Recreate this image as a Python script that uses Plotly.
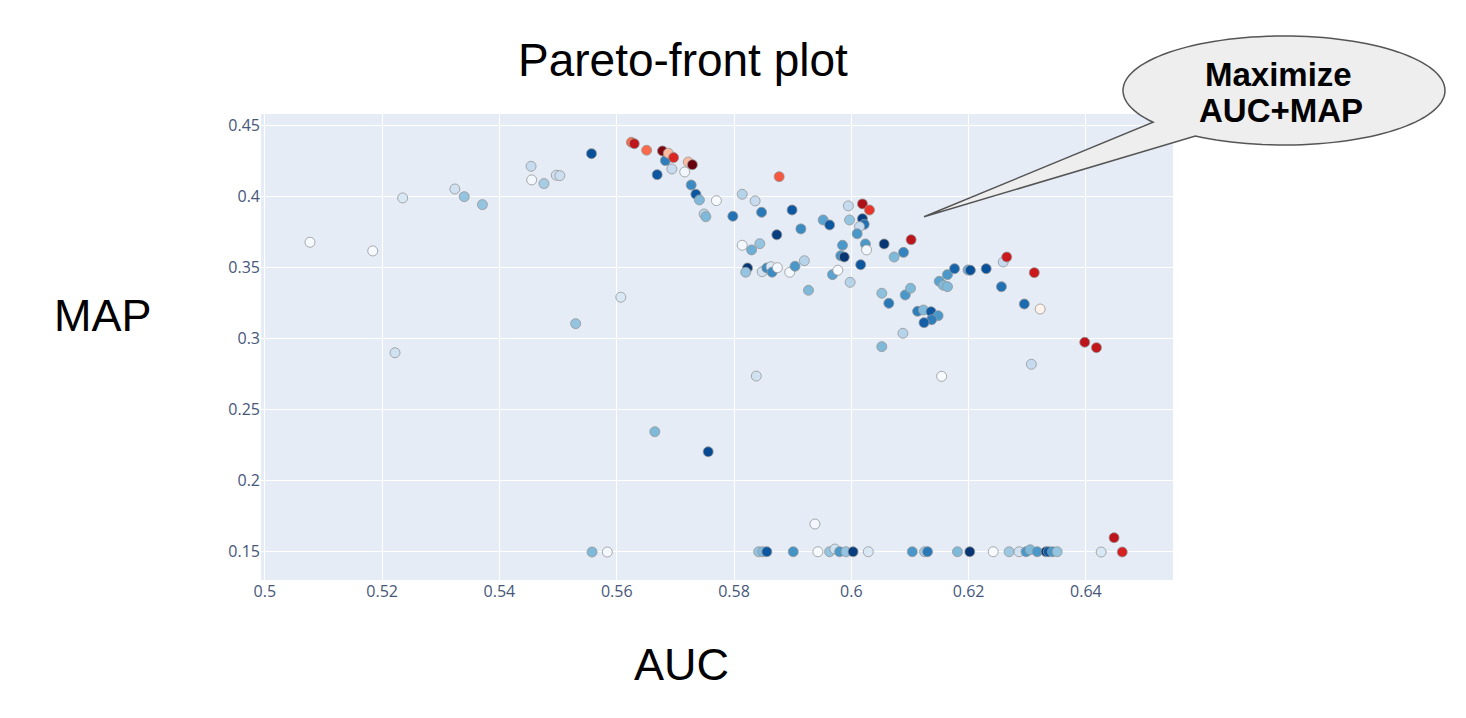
import numpy as np
import plotly.graph_objects as go

# trials that are not on the pareto front (AUC, MAP, colour shade 0..1 = trial order)
auc = [0.5077, 0.5184, 0.5235, 0.5222, 0.5324, 0.5340, 0.5371, 0.5454, 0.5455, 0.5476,
       0.5497, 0.5503, 0.5557, 0.5530, 0.5607, 0.5683, 0.5694, 0.5669, 0.5716, 0.5727,
       0.5735, 0.5741, 0.5749, 0.5752, 0.5770, 0.5798, 0.5814, 0.5836, 0.5847, 0.5899,
       0.5873, 0.5914, 0.5952, 0.5963, 0.5995, 0.5997, 0.6019, 0.6022, 0.6014, 0.6010,
       0.6024, 0.6026, 0.6056, 0.6089, 0.6073, 0.5814, 0.5830, 0.5844, 0.5823, 0.5820,
       0.5848, 0.5856, 0.5863, 0.5865, 0.5874, 0.5895, 0.5904, 0.5920, 0.5927, 0.5968,
       0.5977, 0.5985, 0.5982, 0.5988, 0.6016, 0.5998, 0.6052, 0.6064, 0.6092, 0.6101,
       0.6052, 0.6088, 0.6113, 0.6123, 0.6136, 0.6148, 0.6137, 0.6124, 0.6150, 0.6157,
       0.6164, 0.6164, 0.6176, 0.6199, 0.6203, 0.6230, 0.6256, 0.6259, 0.6295, 0.5838,
       0.6154, 0.6307, 0.5756, 0.5938, 0.6426, 0.5665, 0.5558, 0.5584,
       0.5842, 0.5849, 0.5856, 0.5901, 0.5943, 0.5963, 0.5972, 0.5980, 0.5991, 0.6003,
       0.6029, 0.6104, 0.6125, 0.6130, 0.6181, 0.6202, 0.6242, 0.6269, 0.6286, 0.6298,
       0.6305, 0.6317, 0.6332, 0.6336, 0.6343, 0.6351]
map_ = [0.3679, 0.3618, 0.3991, 0.2901, 0.4054, 0.4000, 0.3944, 0.4214, 0.4118, 0.4092,
        0.4151, 0.4148, 0.4303, 0.3106, 0.3292, 0.4254, 0.4195, 0.4155, 0.4174, 0.4082,
        0.4017, 0.3977, 0.3878, 0.3859, 0.3972, 0.3862, 0.4017, 0.3970, 0.3890, 0.3906,
        0.3732, 0.3773, 0.3836, 0.3801, 0.3935, 0.3836, 0.3845, 0.3805, 0.3789, 0.3739,
        0.3667, 0.3625, 0.3667, 0.3608, 0.3575, 0.3658, 0.3625, 0.3669, 0.3498, 0.3468,
        0.3472, 0.3498, 0.3507, 0.3468, 0.3500, 0.3468, 0.3510, 0.3549, 0.3341, 0.3451,
        0.3482, 0.3658, 0.3584, 0.3575, 0.3521, 0.3397, 0.3320, 0.3249, 0.3308, 0.3355,
        0.2944, 0.3038, 0.3193, 0.3202, 0.3190, 0.3162, 0.3134, 0.3113, 0.3404, 0.3376,
        0.3366, 0.3451, 0.3493, 0.3484, 0.3482, 0.3493, 0.3366, 0.3540, 0.3244, 0.2737,
        0.2735, 0.2820, 0.2204, 0.1695, 0.1498, 0.2345, 0.1498, 0.1498,
        0.15, 0.15, 0.15, 0.15, 0.15, 0.15, 0.1519, 0.15, 0.15, 0.15,
        0.15, 0.15, 0.15, 0.15, 0.15, 0.15, 0.15, 0.15, 0.15, 0.15,
        0.1514, 0.15, 0.15, 0.15, 0.15, 0.15]
shade = [0.0, 0.0, 0.15, 0.2, 0.2, 0.4, 0.4, 0.25, 0.02, 0.35,
         0.2, 0.22, 0.88, 0.4, 0.15, 0.7, 0.25, 0.85, 0.02, 0.65,
         0.85, 0.45, 0.3, 0.45, 0.0, 0.75, 0.3, 0.25, 0.72, 0.85,
         0.95, 0.65, 0.55, 0.85, 0.25, 0.4, 0.95, 0.75, 0.25, 0.6,
         0.6, 0.02, 0.98, 0.68, 0.45, 0.02, 0.5, 0.4, 0.98, 0.4,
         0.2, 0.65, 0.15, 0.65, 0.02, 0.02, 0.6, 0.3, 0.45, 0.55,
         0.0, 0.6, 0.62, 0.98, 0.85, 0.3, 0.42, 0.72, 0.6, 0.45,
         0.45, 0.3, 0.7, 0.45, 0.85, 0.6, 0.7, 0.82, 0.55, 0.45,
         0.45, 0.6, 0.8, 0.5, 0.88, 0.88, 0.75, 0.25, 0.78, 0.2,
         0.0, 0.25, 0.9, 0.02, 0.15, 0.45, 0.45, 0.02,
         0.4, 0.45, 0.85, 0.62, 0.0, 0.4, 0.2, 0.6, 0.4, 0.95,
         0.15, 0.6, 0.35, 0.72, 0.45, 0.98, 0.0, 0.38, 0.2, 0.6,
         0.45, 0.6, 0.98, 0.85, 0.6, 0.4]

# pareto-front trials
best_auc = [0.5625, 0.5630, 0.5651, 0.5678, 0.5688, 0.5697, 0.5722, 0.5729, 0.5877, 0.6019,
            0.6031, 0.6102, 0.6265, 0.6312, 0.6322, 0.6398, 0.6418, 0.6448, 0.6462]
best_map = [0.4383, 0.4373, 0.4327, 0.4322, 0.4306, 0.4275, 0.4244, 0.4225, 0.4141, 0.3949,
            0.3906, 0.3697, 0.3575, 0.3465, 0.3209, 0.2975, 0.2937, 0.1599, 0.1498]
best_shade = [0.5, 0.8, 0.5, 0.95, 0.25, 0.7, 0.25, 1.0, 0.55, 0.85,
              0.65, 0.8, 0.75, 0.75, 0.02, 0.8, 0.78, 0.8, 0.72]

x_ticks = [0.5, 0.52, 0.54, 0.56, 0.58, 0.6, 0.62, 0.64]
y_ticks = [0.15, 0.2, 0.25, 0.3, 0.35, 0.4, 0.45]

# page body has an 8px margin, so the figure starts at (8, 8) on screen
OFF = 8
W, H = 1450, 702
L, T = 261 - OFF, 114 - OFF
R, B = W - (1173 - OFF), H - (580 - OFF)
PW, PH = W - L - R, H - T - B


def px2paper(sx, sy):
    # screen pixel -> paper coords
    x, y = sx - OFF, sy - OFF
    return (x - L) / PW, (H - B - y) / PH


fig = go.Figure()

fig.add_trace(go.Scatter(
    x=auc, y=map_, mode='markers',
    marker=dict(color=shade, colorscale='Blues', cmin=0, cmax=1, size=10,
                line=dict(color='rgb(150,150,150)', width=0.8)),
    showlegend=False, name='Trial'
))
fig.add_trace(go.Scatter(
    x=best_auc, y=best_map, mode='markers',
    marker=dict(color=best_shade, colorscale='Reds', cmin=0, cmax=1, size=10,
                line=dict(color='rgb(150,150,150)', width=0.8)),
    showlegend=False, name='Best Trial'
))

# speech bubble: ellipse + tail as one outline
cx, cy, rx, ry = 1284, 90.5, 161, 54.5
t = np.radians(np.linspace(144.4, 483.4, 120))
ex = cx + rx * np.cos(t)
ey = cy + ry * np.sin(t)
pts = [px2paper(a, b) for a, b in zip(ex, ey)] + [px2paper(924, 216.7)]
path = 'M ' + ' L '.join(f'{a:.4f},{b:.4f}' for a, b in pts) + ' Z'
fig.add_shape(type='path', path=path, xref='paper', yref='paper',
              fillcolor='#eeeeee', line=dict(color='#555555', width=1.5), layer='above')

font = 'Liberation Sans, Arial, sans-serif'


def label(text, sx, sy, size, bold=False):
    x, y = px2paper(sx, sy)
    fig.add_annotation(x=x, y=y, xref='paper', yref='paper', showarrow=False,
                       xanchor='center', yanchor='middle',
                       text=f'<b>{text}</b>' if bold else text,
                       font=dict(family=font, size=size, color='black'))


label('Maximize', 1278, 75, 33, bold=True)
label('AUC+MAP', 1281, 110, 33, bold=True)
label('Pareto-front plot', 683, 60, 46)
label('MAP', 102.5, 315, 45)
label('AUC', 681.5, 664, 45)

fig.update_layout(
    width=W, height=H,
    margin=dict(l=L, r=R, t=T, b=B),
    paper_bgcolor='white',
    plot_bgcolor='#E5ECF6',
    xaxis=dict(range=[0.49935, 0.65485], tickvals=x_ticks, ticktext=[f'{v:g}' for v in x_ticks],
               gridcolor='white', zeroline=False, tickfont=dict(size=16, color='#46577a')),
    yaxis=dict(range=[0.1301, 0.4582], tickvals=y_ticks, ticktext=[f'{v:g}' for v in y_ticks],
               gridcolor='white', zeroline=False, tickfont=dict(size=16, color='#46577a')),
)

fig.write_html("out.html")
